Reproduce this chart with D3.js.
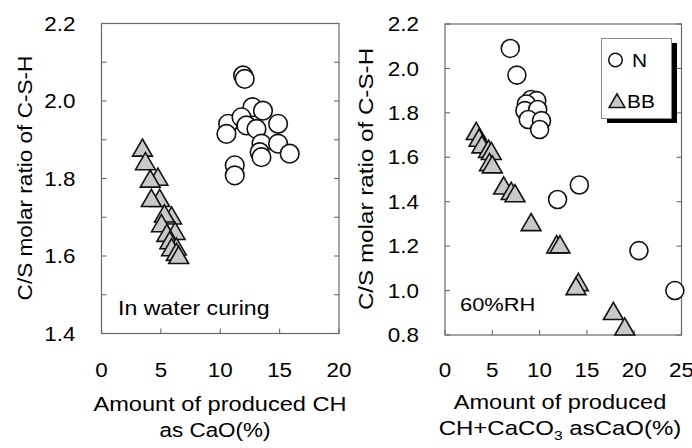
<!DOCTYPE html>
<html><head><meta charset="utf-8">
<script src="https://cdn.jsdelivr.net/npm/d3@7"></script>
<style>
html,body{margin:0;padding:0;background:#fff;}
svg{display:block;font-family:"Liberation Sans",Arial,Helvetica,sans-serif;}
</style></head>
<body>
<svg id="chart" width="692" height="448"></svg>
<script>
// ---- data ----
const leftN = [
  [11.92,2.066],[12.06,2.057],[12.71,1.984],[13.6,1.975],[10.66,1.941],[11.79,1.958],
  [14.87,1.941],[12.2,1.937],[13.05,1.928],[10.52,1.915],[13.47,1.89],[14.87,1.89],
  [15.85,1.864],[13.32,1.868],[13.47,1.855],[11.22,1.834],[11.22,1.808]
];
const leftBB = [
  [3.45,1.875],[3.7,1.84],[4.75,1.80],[4.1,1.795],[4.9,1.745],[4.2,1.745],
  [5.9,1.70],[5.3,1.705],[5.05,1.68],[6.2,1.66],[5.5,1.655],[5.75,1.636],
  [6.3,1.62],[5.9,1.618],[6.3,1.606],[6.5,1.598]
];
const rightN = [
  [6.9,2.09],[7.6,1.97],[9.1,1.86],[9.7,1.855],[8.6,1.84],[8.45,1.81],[9.8,1.815],
  [8.8,1.77],[10.2,1.765],[10.0,1.725],[11.9,1.41],[14.2,1.475],[20.5,1.18],[24.3,1.0]
];
const rightBB = [
  [3.3,1.71],[3.6,1.68],[3.9,1.65],[4.6,1.63],[4.9,1.62],[4.7,1.57],[5.0,1.56],
  [6.2,1.465],[7.0,1.44],[7.4,1.43],[9.1,1.30],[11.8,1.20],[12.15,1.20],
  [14.1,1.03],[13.85,1.012],[17.8,0.90],[19.0,0.83]
];
const leftXTicks = [0,5,10,15,20];
const leftYTicks = [1.4,1.6,1.8,2.0,2.2];
const leftYMinor = [1.5,1.7,1.9,2.1];
const rightXTicks = [0,5,10,15,20,25];
const rightYTicks = [0.8,1.0,1.2,1.4,1.6,1.8,2.0,2.2];
const yTitle = "C/S molar ratio of C-S-H";
const legendItems = [{name:"N",shape:"circle"},{name:"BB",shape:"triangle"}];

// ---- drawing ----
const svg = d3.select("#chart");
const FS = 20;
const INK = "#000";

function stretch(sel, f){
  sel.each(function(){
    const w = this.getComputedTextLength();
    d3.select(this).attr("textLength", w*f).attr("lengthAdjust","spacingAndGlyphs");
  });
}

const triPath = d3.symbol().type(d3.symbolTriangle).size(170);

function panel(cfg){
  const x = d3.scaleLinear().domain(cfg.xd).range([cfg.x0,cfg.x1]);
  const y = d3.scaleLinear().domain(cfg.yd).range([cfg.y1,cfg.y0]);
  const g = svg.append("g");
  g.append("rect").attr("x",cfg.x0).attr("y",cfg.y0)
    .attr("width",cfg.x1-cfg.x0).attr("height",cfg.y1-cfg.y0)
    .attr("fill","none").attr("stroke","#6a6a6a").attr("stroke-width",1.2);
  const tickStyle = s=>s.attr("stroke","#6a6a6a").attr("stroke-width",1.1);
  cfg.yTickAll.forEach(v=>{
    g.append("line").attr("x1",cfg.x0).attr("x2",cfg.x0+5).attr("y1",y(v)).attr("y2",y(v)).call(tickStyle);
    g.append("line").attr("x1",cfg.x1).attr("x2",cfg.x1-5).attr("y1",y(v)).attr("y2",y(v)).call(tickStyle);
  });
  cfg.xTicks.forEach(v=>{
    g.append("line").attr("x1",x(v)).attr("x2",x(v)).attr("y1",cfg.y1).attr("y2",cfg.y1-5).call(tickStyle);
  });
  g.selectAll(".yl").data(cfg.yTicks).enter().append("text")
    .attr("x",cfg.x0-26).attr("y",d=>y(d)).attr("dy","0.36em")
    .attr("text-anchor","end").attr("font-size",FS).attr("fill",INK)
    .text(d=>d.toFixed(1)).call(stretch,1.12);
  g.selectAll(".xl").data(cfg.xTicks).enter().append("text")
    .attr("x",d=>x(d)).attr("y",cfg.xlabY)
    .attr("text-anchor","middle").attr("font-size",FS).attr("fill",INK)
    .text(d=>d).call(stretch,1.12);
  g.append("text").attr("transform",`translate(${cfg.ytX},${cfg.ytY}) rotate(-90)`)
    .attr("text-anchor","middle").attr("font-size",FS).attr("fill",INK)
    .text(yTitle).call(stretch,cfg.ytStretch);
  g.selectAll(".tri").data(cfg.bb).enter().append("path")
    .attr("d",triPath)
    .attr("transform",d=>`translate(${x(d[0])},${y(d[1])+1})`)
    .attr("fill","#c9c9c9").attr("stroke","#111").attr("stroke-width",1.6);
  g.selectAll(".cir").data(cfg.n).enter().append("circle")
    .attr("cx",d=>x(d[0])).attr("cy",d=>y(d[1])).attr("r",cfg.r)
    .attr("fill","#fff").attr("stroke","#111").attr("stroke-width",1.6);
  return {x,y,g};
}

panel({xd:[0,20],yd:[1.4,2.2],x0:101.5,x1:339,y0:23.5,y1:333.5,
  xTicks:leftXTicks,yTicks:leftYTicks,yTickAll:leftYTicks.concat(leftYMinor),
  xlabY:377,ytX:32,ytY:178,ytStretch:1.13,bb:leftBB,n:leftN,r:9.3});

panel({xd:[0,25],yd:[0.8,2.2],x0:445,x1:681.5,y0:24,y1:335,
  xTicks:rightXTicks,yTicks:rightYTicks,yTickAll:rightYTicks,
  xlabY:377,ytX:373,ytY:179,ytStretch:1.21,bb:rightBB,n:rightN,r:9});

// annotations
svg.append("text").attr("x",118).attr("y",315).attr("font-size",21).attr("fill",INK)
  .text("In water curing").call(stretch,1.1);
svg.append("text").attr("x",460).attr("y",311).attr("font-size",19).attr("fill",INK)
  .text("60%RH").call(stretch,1.15);

// x titles
svg.append("text").attr("x",220).attr("y",411).attr("text-anchor","middle").attr("font-size",FS).attr("fill",INK)
  .text("Amount of produced CH").call(stretch,1.18);
svg.append("text").attr("x",215).attr("y",437).attr("text-anchor","middle").attr("font-size",FS).attr("fill",INK)
  .text("as CaO(%)").call(stretch,1.12);
svg.append("text").attr("x",560).attr("y",409).attr("text-anchor","middle").attr("font-size",FS).attr("fill",INK)
  .text("Amount of produced").call(stretch,1.18);
const t2g = svg.append("g").attr("transform","translate(560,435) scale(1.2,1)");
const t2 = t2g.append("text").attr("x",0).attr("y",0).attr("text-anchor","middle").attr("font-size",FS).attr("fill",INK);
t2.append("tspan").text("CH+CaCO");
t2.append("tspan").attr("font-size",13).attr("dy",5).text("3");
t2.append("tspan").attr("dy",-5).text(" asCaO(%)");

// legend
const lg = svg.append("g");
lg.append("rect").attr("x",607).attr("y",43).attr("width",70).attr("height",80).attr("fill","#000");
lg.append("rect").attr("x",601.5).attr("y",38.5).attr("width",70).attr("height",80)
  .attr("fill","#fff").attr("stroke","#888").attr("stroke-width",1);
legendItems.forEach((it,i)=>{
  const cy = 60 + i*41;
  if(it.shape==="circle"){
    lg.append("circle").attr("cx",615.5).attr("cy",cy).attr("r",6.8)
      .attr("fill","#fff").attr("stroke","#111").attr("stroke-width",1.5);
  } else {
    lg.append("path").attr("d",d3.symbol().type(d3.symbolTriangle).size(110))
      .attr("transform",`translate(617,${cy+2})`)
      .attr("fill","#c9c9c9").attr("stroke","#111").attr("stroke-width",1.5);
  }
  lg.append("text").attr("x",i===0?632:627).attr("y",cy+7).attr("font-size",19).attr("fill",INK)
    .text(it.name).call(stretch,1.1);
});
</script>
</body></html>
